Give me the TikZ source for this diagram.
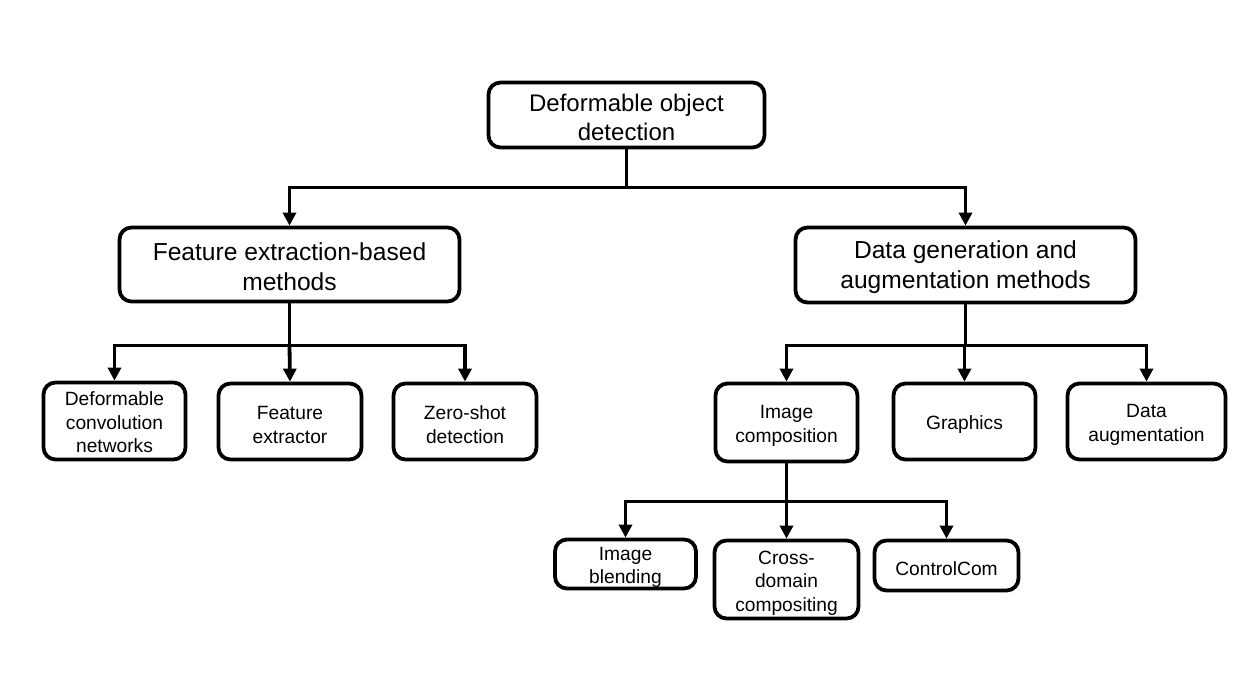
\documentclass[tikz,border=0pt]{standalone}
\usepackage{fontspec}
\setmainfont{Liberation Sans}
\usetikzlibrary{arrows.meta}
\newcommand{\lftS}{\rule{0pt}{20pt}}
\newcommand{\lftT}{\rule{0pt}{17pt}}
\newcommand{\lftB}{\rule{0pt}{21.5pt}}
\tikzset{
  box/.style={draw=black, line width=3.8pt, rounded corners=12pt, align=center, inner sep=0pt, fill=white},
  big/.style={box, font=\fontsize{24.6}{30}\selectfont},
  rootbox/.style={box, font=\fontsize{24}{29}\selectfont},
  small/.style={box, font=\fontsize{19.2}{23.5}\selectfont},
  conn/.style={line width=3.8pt},
  arr/.style={line width=3.8pt, -{Triangle[length=13pt,width=13pt]}}
}
\begin{document}
\begin{tikzpicture}[x=1pt,y=-1pt]
\useasboundingbox (0,0) rectangle (1256,696);
\node[rootbox, minimum width=276pt, minimum height=65pt] (root) at (626.5,115) {\lftB Deformable object\\detection};
\node[big, minimum width=340pt, minimum height=74pt] (fe) at (289.5,264.5) {\lftB Feature extraction-based\\methods};
\node[big, minimum width=340pt, minimum height=75pt] (dg) at (965.5,265) {\lftB Data generation and\\augmentation methods};
\node[small, minimum width=142pt, minimum height=77pt] (dcn) at (114.5,421) {\lftT Deformable\\convolution\\networks};
\node[small, minimum width=143pt, minimum height=76pt] (fx) at (290,421.5) {\lftS Feature\\extractor};
\node[small, minimum width=143pt, minimum height=76pt] (zs) at (465,421.5) {\lftS Zero-shot\\detection};
\node[small, minimum width=142pt, minimum height=78pt] (ic) at (786.5,422.5) {\lftS Image\\composition};
\node[small, minimum width=142pt, minimum height=76pt] (gr) at (964.5,421.5) {\lftS Graphics};
\node[small, minimum width=158pt, minimum height=76pt] (da) at (1146.5,421.5) {\lftS Data\\augmentation};
\node[small, minimum width=141pt, minimum height=49pt] (ib) at (625.5,564) {\lftS Image\\blending};
\node[small, minimum width=144pt, minimum height=78pt] (cd) at (786.5,579.5) {\lftS Cross-\\domain\\compositing};
\node[small, minimum width=144pt, minimum height=50pt] (cc) at (946.5,565.5) {\lftS ControlCom};
% root level
\draw[conn] (root.south) -- ++(0,38) coordinate (j1);
\draw[arr] (j1) -| (fe.north);
\draw[arr] (j1) -| (dg.north);
% left branch
\draw[conn] (fe.south) -- ++(0,42) coordinate (j2);
\draw[arr] (j2) -| (dcn.north);
\draw[arr] (j2) -- (fx.north);
\draw[arr] (j2) -| (zs.north);
% right branch
\draw[conn] (dg.south) -- ++(0,41) coordinate (j3);
\draw[arr] (j3) -| (ic.north);
\draw[arr] (j3) -| (gr.north);
\draw[arr] (j3) -| (da.north);
% image composition branch
\draw[conn] (ic.south) -- ++(0,38) coordinate (j4);
\draw[arr] (j4) -| (ib.north);
\draw[arr] (j4) -- (cd.north);
\draw[arr] (j4) -| (cc.north);
\end{tikzpicture}
\end{document}
